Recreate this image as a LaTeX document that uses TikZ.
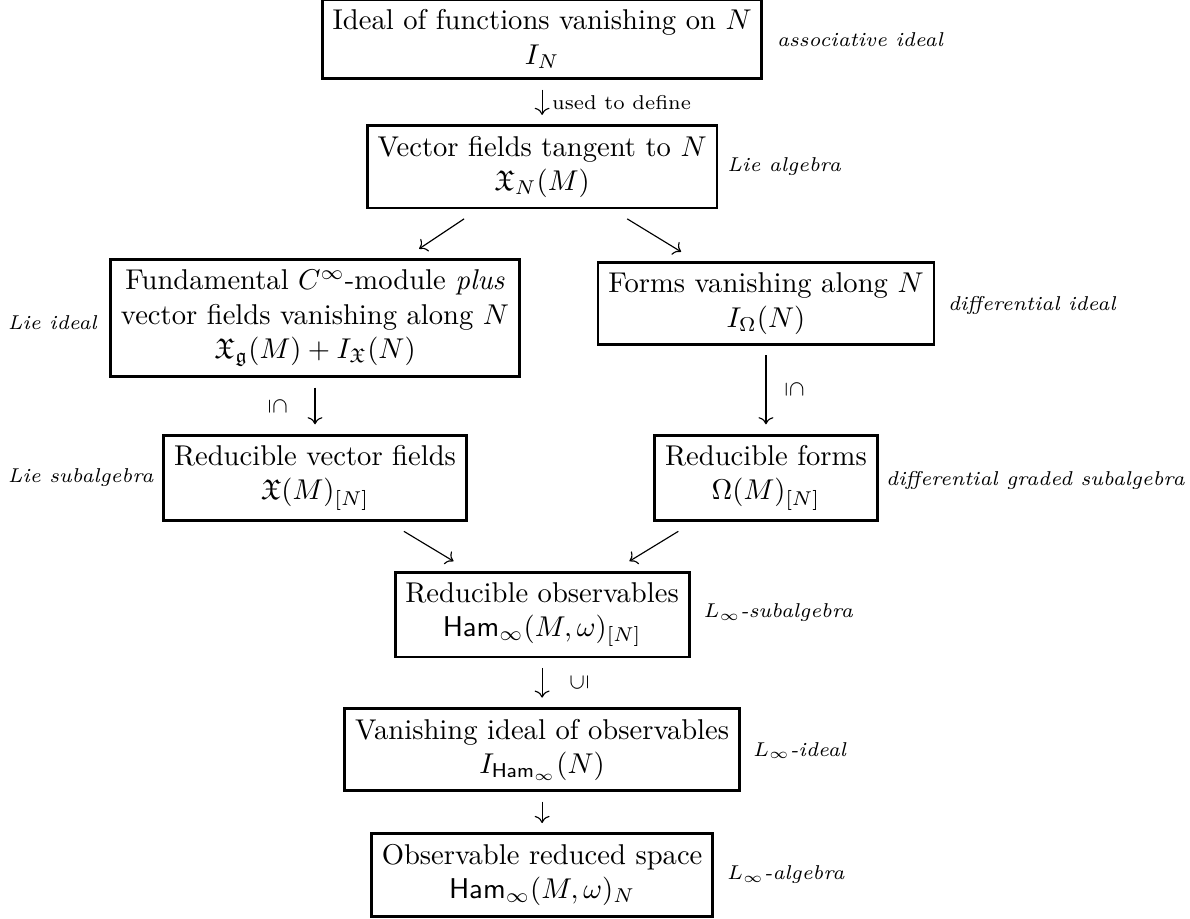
\documentclass[tikz,border=0pt]{standalone}
\usepackage{amssymb}
\usepackage{amsmath}
\usetikzlibrary{arrows.meta}

\begin{document}
\begin{tikzpicture}[>={To},
      obj/.style={draw,line width=1pt,align=center,inner sep=3.6pt,outer sep=3.8pt},
      prop/.style={anchor=west,inner sep=0pt,font=\scriptsize\itshape},
      incl/.style={font=\scriptsize,inner sep=0pt}]
  \useasboundingbox(0,0)rectangle(14.62,-11.28);
  % boxes
  \node[obj](ideal)at(6.66,-0.48){Ideal of functions vanishing on $N$\\$I_N$};
  \node[obj](tang)at(6.66,-2.05){Vector fields tangent to $N$\\$\mathfrak{X}_N(M)$};
  \node[obj](fund)at(3.87,-3.91){Fundamental $C^\infty$-module \emph{plus}\\
    vector fields vanishing along $N$\\$\mathfrak{X}_\mathfrak{g}(M)+I_\mathfrak{X}(N)$};
  \node[obj](forms)at(9.41,-3.73){Forms vanishing along $N$\\$I_\Omega(N)$};
  \node[obj](redvf)at(3.87,-5.87){Reducible vector fields\\$\mathfrak{X}(M)_{[N]}$};
  \node[obj](redf)at(9.41,-5.87){Reducible forms\\$\Omega(M)_{[N]}$};
  \node[obj](redobs)at(6.66,-7.55){Reducible observables\\$\mathsf{Ham}_\infty(M,\omega)_{[N]}$};
  \node[obj](vanobs)at(6.66,-9.21){Vanishing ideal of observables\\$I_{\mathsf{Ham}_\infty}(N)$};
  \node[obj](reduced)at(6.66,-10.75){Observable reduced space\\$\mathsf{Ham}_\infty(M,\omega)_N$};
  % what kind of object
  \node[prop]at(9.54,-0.49){associative ideal};
  \node[prop]at(8.93,-2.05){Lie algebra};
  \node[prop]at(0.09,-3.96){Lie ideal};
  \node[prop]at(11.64,-3.75){differential ideal};
  \node[prop]at(0.09,-5.87){Lie subalgebra};
  \node[prop]at(10.88,-5.90){differential graded subalgebra};
  \node[prop]at(8.64,-7.53){$L_\infty$-subalgebra};
  \node[prop]at(9.25,-9.22){$L_\infty$-ideal};
  \node[prop]at(8.93,-10.75){$L_\infty$-algebra};
  % arrows
  \draw[->](ideal)--node[right,font=\scriptsize]{used to define}(tang);
  \draw[->](tang)--(fund);
  \draw[->](tang)--(forms);
  \draw[->](fund)--node[incl,xshift=-13pt,rotate=-90]{$\subseteq$}(redvf);
  \draw[->](forms)--node[incl,xshift=10pt,rotate=-90]{$\subseteq$}(redf);
  \draw[->](redvf)--(redobs);
  \draw[->](redf)--(redobs);
  \draw[->](redobs)--node[incl,xshift=13pt,rotate=90]{$\subseteq$}(vanobs);
  \draw[->](vanobs)--(reduced);
\end{tikzpicture}
\end{document}
